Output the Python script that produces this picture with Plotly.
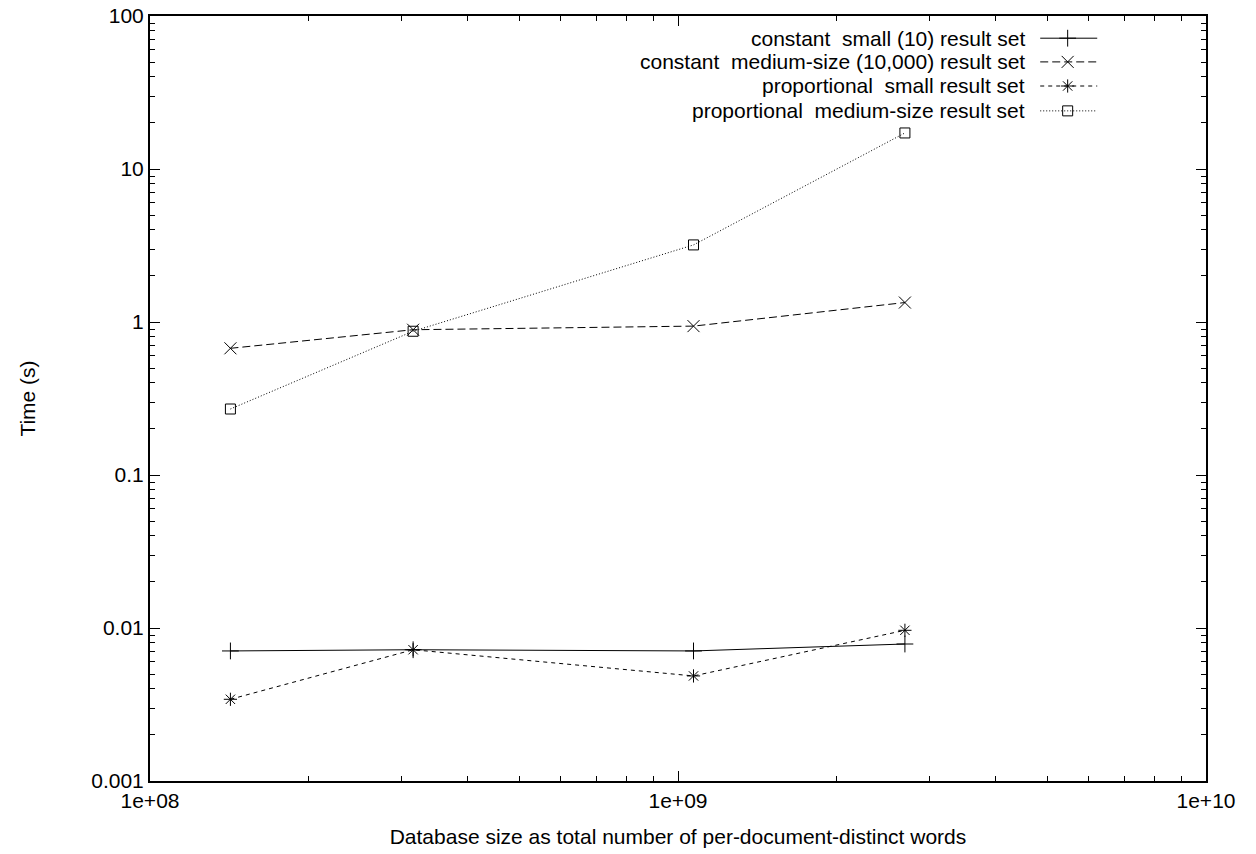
import plotly.graph_objects as go

# Data
db_size = [1.42e8, 3.15e8, 1.07e9, 2.69e9]
const_small = [0.00708, 0.00721, 0.00708, 0.00786]
const_medium = [0.673, 0.89, 0.94, 1.34]
prop_small = [0.00342, 0.00721, 0.00486, 0.00966]
prop_medium = [0.27, 0.87, 3.19, 17.2]

series_names = [
    "constant  small (10) result set",
    "constant  medium-size (10,000) result set",
    "proportional  small result set",
    "proportional  medium-size result set",
]
series_values = [const_small, const_medium, prop_small, prop_medium]
dashes = ["solid", "8px,4px", "4px,4px", "1px,2px"]
symbols = ["cross-thin-open", "x-thin-open", "asterisk-open", "square-open"]
msizes = [12, 12, 11, 10]

y_tickvals = [0.001, 0.01, 0.1, 1, 10, 100]
y_ticktext = ["0.001", "0.01", "0.1", "1", "10", "100"]
x_tickvals = [1e8, 1e9, 1e10]
x_ticktext = ["1e+08", "1e+09", "1e+10"]

FONT = "Liberation Sans, Arial, sans-serif"
FS = 21

fig = go.Figure()
for name, vals, d, s, ms in zip(series_names, series_values, dashes, symbols, msizes):
    fig.add_trace(go.Scatter(
        x=db_size, y=vals, mode="lines+markers", name=name,
        line=dict(color="black", width=1, dash=d),
        marker=dict(symbol=s, size=ms, color="black", line=dict(color="black", width=1)),
        showlegend=False,
    ))

# Custom gnuplot-style legend (text left, sample right)
leg_rows = [0.971, 0.940, 0.9085, 0.876]
for name, d, s, ms, yy in zip(series_names, dashes, symbols, msizes, leg_rows):
    fig.add_annotation(xref="paper", yref="paper", x=0.8305, y=yy, text=name,
                       showarrow=False, xanchor="right", yanchor="middle",
                       font=dict(family=FONT, size=FS, color="black"))
    fig.add_trace(go.Scatter(
        x=[0.843, 0.897], y=[yy, yy], xaxis="x2", yaxis="y2", mode="lines",
        line=dict(color="black", width=1, dash=d), showlegend=False, hoverinfo="skip"))
    fig.add_trace(go.Scatter(
        x=[0.869], y=[yy], xaxis="x2", yaxis="y2", mode="markers",
        marker=dict(symbol=s, size=ms, color="black", line=dict(color="black", width=1)),
        showlegend=False, hoverinfo="skip"))

axis_common = dict(
    showgrid=False, zeroline=False, showline=True, linecolor="black", linewidth=2,
    mirror="allticks", ticks="inside", ticklen=10, tickcolor="black", tickwidth=1,
    tickfont=dict(family=FONT, size=FS, color="black"), automargin=False,
)
minor_common = dict(ticks="inside", ticklen=5, tickcolor="black", showgrid=False, dtick="D1")

fig.update_layout(
    width=1256, height=854,
    margin=dict(l=150, r=50, t=16, b=73),
    plot_bgcolor="white", paper_bgcolor="white",
    xaxis=dict(type="log", range=[8, 10], tickvals=x_tickvals, ticktext=x_ticktext,
               minor=minor_common,
               title=dict(text="Database size as total number of per-document-distinct words",
                          font=dict(family=FONT, size=FS, color="black"), standoff=18),
               **axis_common),
    yaxis=dict(type="log", range=[-3, 2], tickvals=y_tickvals, ticktext=y_ticktext,
               minor=minor_common,
               title=dict(text="Time (s)", font=dict(family=FONT, size=FS, color="black"),
                          standoff=50),
               **axis_common),
    xaxis2=dict(domain=[0, 1], range=[0, 1], visible=False, overlaying="x", anchor="y2"),
    yaxis2=dict(domain=[0, 1], range=[0, 1], visible=False, overlaying="y", anchor="x2"),
)

fig.write_html("out.html", config={"displayModeBar": False},
               post_script="document.body.style.margin='0';document.body.style.overflow='hidden';")
